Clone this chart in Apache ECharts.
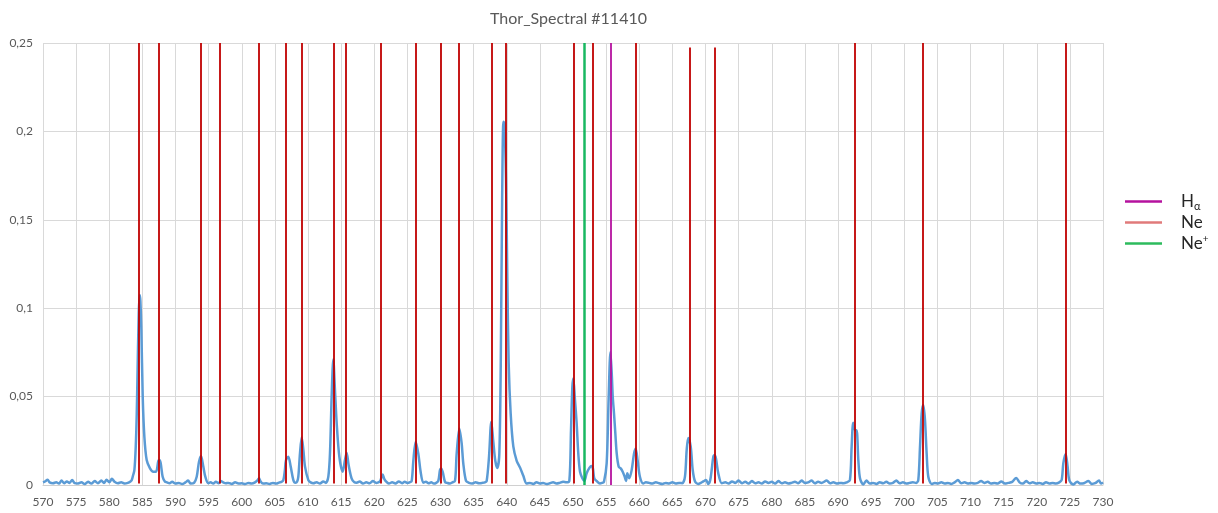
<!DOCTYPE html>
<html>
<head>
<meta charset="utf-8">
<title>Thor_Spectral #11410</title>
<script src="https://cdn.jsdelivr.net/npm/echarts@6/dist/echarts.min.js"></script>
<style>
  html, body { margin: 0; padding: 0; background: #ffffff; }
  #chart { width: 1218px; height: 513px; }
</style>
</head>
<body>
<div id="chart"></div>
<script>
// Measured spectrum: wavelength (nm) and intensity
const wavelengths = [
  570.0, 570.3, 570.7, 571.0, 571.5, 572.0, 572.4, 572.8, 573.2, 573.6, 574.0, 574.4, 574.8, 575.3, 575.8,
  576.3, 576.8, 577.3, 577.8, 578.3, 578.8, 579.2, 579.6, 580.0, 580.4, 580.8, 581.3, 581.8, 582.3, 582.8,
  583.2, 583.4, 583.6, 583.8, 584.0, 584.15, 584.25, 584.45, 584.6, 584.7, 584.85, 585.05, 585.3, 585.65,
  586.15, 586.65, 587.06, 587.4, 587.56, 587.76, 588.06, 588.4, 588.7, 589.1, 589.5, 590.0, 590.5, 591.0,
  591.5, 591.9, 592.3, 592.8, 593.2, 593.55, 593.85, 594.2, 594.5, 594.95, 595.3, 595.7, 596.1, 596.5,
  596.85, 597.2, 597.6, 598.0, 598.5, 599.0, 599.5, 600.0, 600.5, 601.0, 601.5, 602.0, 602.4, 602.6,
  602.85, 603.2, 603.7, 604.2, 604.7, 605.2, 605.7, 606.0, 606.28, 606.5, 606.68, 607.03, 607.39, 607.79,
  608.1, 608.35, 608.54, 608.79, 609.05, 609.3, 609.55, 610.05, 610.4, 610.8, 611.3, 611.8, 612.3, 612.7,
  613.07, 613.32, 613.57, 613.82, 614.07, 614.33, 614.73, 615.23, 615.58, 615.83, 616.13, 616.58, 617.0,
  617.34, 617.8, 618.3, 618.8, 619.3, 619.8, 620.3, 620.87, 621.1, 621.27, 621.5, 621.77, 622.2, 622.7,
  623.2, 623.7, 624.2, 624.6, 625.0, 625.35, 625.65, 625.9, 626.25, 626.65, 627.0, 627.4, 627.8, 628.2,
  628.6, 629.0, 629.35, 629.67, 629.92, 630.08, 630.33, 630.68, 631.0, 631.4, 631.8, 632.19, 632.44,
  632.84, 633.19, 633.44, 633.85, 634.3, 634.8, 635.3, 635.8, 636.3, 636.7, 636.97, 637.32, 637.67,
  637.97, 638.27, 638.58, 638.88, 639.1, 639.3, 639.5, 639.65, 639.89, 640.09, 640.29, 640.59, 640.99,
  641.5, 642.0, 642.5, 643.0, 643.5, 644.0, 644.5, 645.0, 645.5, 646.0, 646.5, 647.0, 647.5, 648.0,
  648.5, 649.0, 649.45, 649.7, 649.9, 650.05, 650.3, 650.55, 650.8, 651.06, 651.41, 651.71, 652.06,
  652.5, 652.8, 653.0, 653.21, 653.56, 654.06, 654.4, 654.67, 655.08, 655.38, 655.65, 655.85, 656.0,
  656.19, 656.39, 656.6, 656.9, 657.2, 657.5, 657.8, 658.0, 658.2, 658.5, 658.86, 659.21, 659.46,
  659.76, 660.1, 660.6, 661.0, 661.5, 662.0, 662.5, 663.0, 663.5, 664.0, 664.5, 665.0, 665.5, 666.0,
  666.5, 666.9, 667.16, 667.4, 667.77, 668.07, 668.42, 668.9, 669.3, 669.67, 670.08, 670.42, 670.7,
  670.93, 671.18, 671.38, 671.58, 671.93, 672.45, 673.0, 673.5, 674.0, 674.5, 675.0, 675.5, 676.0,
  676.5, 677.0, 677.5, 678.0, 678.5, 679.0, 679.5, 680.0, 680.5, 681.0, 681.5, 682.0, 682.5, 683.0,
  683.5, 684.0, 684.5, 685.0, 685.5, 686.03, 686.5, 687.0, 687.5, 688.3, 688.8, 689.3, 689.8, 690.3,
  690.8, 691.3, 691.8, 692.06, 692.3, 692.57, 692.8, 693.07, 693.32, 693.82, 694.3, 694.8, 695.3,
  695.8, 696.3, 696.8, 697.3, 697.8, 698.3, 698.8, 699.3, 699.8, 700.3, 700.8, 701.3, 701.8, 702.12,
  702.38, 702.63, 702.88, 703.13, 703.38, 703.63, 704.14, 704.6, 705.1, 705.6, 706.1, 706.6, 707.1,
  707.6, 708.1, 708.6, 709.1, 709.6, 710.1, 710.6, 711.1, 711.6, 712.1, 712.6, 713.1, 713.6, 714.1,
  714.65, 715.2, 715.7, 716.3, 716.9, 717.4, 717.9, 718.4, 718.9, 719.4, 719.9, 720.4, 720.9, 721.4,
  721.9, 722.4, 722.9, 723.4, 723.76, 724.01, 724.36, 724.66, 724.91, 725.5, 726.1, 726.6, 727.1,
  727.8, 728.3, 728.8, 729.4, 729.7, 730.0
];
const intensities = [
  0.0015, 0.002, 0.003, 0.0015, 0.001, 0.0015, 0.0008, 0.0025, 0.001, 0.002, 0.0012, 0.0028, 0.001, 0.0008, 0.0015,
  0.0005, 0.0018, 0.0008, 0.0022, 0.001, 0.0025, 0.0012, 0.003, 0.0015, 0.0035, 0.0018, 0.001, 0.0015, 0.0008, 0.0012,
  0.002, 0.0028, 0.0055, 0.0085, 0.0217, 0.04, 0.0594, 0.097, 0.1075, 0.104, 0.0877, 0.05, 0.0273, 0.0141,
  0.0094, 0.0075, 0.0075, 0.0135, 0.0141, 0.0125, 0.0047, 0.002, 0.0015, 0.001, 0.0018, 0.0008, 0.0012, 0.0005,
  0.0015, 0.0025, 0.0008, 0.0012, 0.0047, 0.0132, 0.0164, 0.0104, 0.0047, 0.001, 0.0015, 0.0008, 0.0018, 0.001,
  0.0022, 0.0015, 0.001, 0.0012, 0.0006, 0.0015, 0.0008, 0.001, 0.0005, 0.0012, 0.0008, 0.0015, 0.0028, 0.0038,
  0.002, 0.0008, 0.001, 0.0006, 0.0012, 0.0008, 0.0015, 0.0018, 0.0028, 0.008, 0.0141, 0.016, 0.0104, 0.0028,
  0.0013, 0.0018, 0.0047, 0.0179, 0.027, 0.0198, 0.0104, 0.0028, 0.0015, 0.001, 0.0015, 0.0008, 0.002, 0.0012,
  0.0047, 0.018, 0.05, 0.0711, 0.0537, 0.035, 0.016, 0.0075, 0.0141, 0.0183, 0.0113, 0.0038, 0.0015,
  0.0013, 0.002, 0.0008, 0.0015, 0.001, 0.0022, 0.0012, 0.002, 0.0045, 0.006, 0.0035, 0.002, 0.0008, 0.0015,
  0.0008, 0.002, 0.001, 0.0018, 0.0012, 0.0015, 0.0023, 0.0137, 0.0245, 0.0177, 0.0075, 0.0013, 0.0018, 0.001,
  0.0015, 0.0008, 0.0012, 0.0023, 0.0085, 0.0094, 0.0075, 0.0017, 0.0012, 0.0008, 0.0015, 0.0023, 0.0177,
  0.032, 0.0237, 0.0122, 0.0023, 0.0012, 0.0008, 0.0015, 0.001, 0.0012, 0.0015, 0.0023, 0.0158, 0.0358,
  0.0245, 0.0137, 0.0096, 0.0177, 0.07, 0.16, 0.2055, 0.2045, 0.1725, 0.116, 0.069, 0.0405, 0.0218,
  0.0137, 0.0099, 0.0052, 0.0009, 0.0012, 0.0006, 0.0015, 0.0008, 0.0012, 0.0005, 0.001, 0.0015, 0.0008, 0.0012,
  0.0018, 0.0015, 0.0023, 0.031, 0.0554, 0.0603, 0.048, 0.035, 0.0177, 0.0075, 0.0038, 0.0023, 0.0066,
  0.0098, 0.0107, 0.0094, 0.0038, 0.0023, 0.0009, 0.0012, 0.0017, 0.0122, 0.049, 0.0752, 0.063, 0.0499,
  0.0405, 0.0292, 0.0177, 0.0103, 0.0094, 0.0075, 0.0047, 0.0023, 0.0066, 0.0038, 0.0085, 0.0177, 0.0205,
  0.0137, 0.0047, 0.0009, 0.0015, 0.0012, 0.0008, 0.0015, 0.001, 0.0006, 0.0012, 0.0008, 0.0015, 0.0008, 0.0012,
  0.001, 0.0047, 0.0198, 0.0266, 0.0217, 0.0085, 0.002, 0.0006, 0.0012, 0.002, 0.0028, 0.0006, 0.0025,
  0.0085, 0.016, 0.017, 0.015, 0.0066, 0.001, 0.0015, 0.0008, 0.002, 0.0012, 0.0025, 0.001, 0.0018,
  0.0008, 0.0022, 0.001, 0.0015, 0.0008, 0.002, 0.0012, 0.0018, 0.0008, 0.0022, 0.001, 0.0015, 0.0008, 0.0012,
  0.0018, 0.001, 0.0025, 0.0012, 0.0015, 0.0025, 0.001, 0.0018, 0.0012, 0.0025, 0.001, 0.0015, 0.0008, 0.0012,
  0.001, 0.0015, 0.0028, 0.0217, 0.0352, 0.031, 0.031, 0.0141, 0.0038, 0.0003, 0.0025, 0.0008, 0.0012,
  0.0006, 0.0015, 0.001, 0.0018, 0.0008, 0.0012, 0.0025, 0.001, 0.0015, 0.0008, 0.0012, 0.0015, 0.0012, 0.0028,
  0.0217, 0.0405, 0.0452, 0.0367, 0.0179, 0.0047, 0.0006, 0.0012, 0.0008, 0.0015, 0.0008, 0.0012, 0.0006,
  0.0015, 0.0028, 0.001, 0.0015, 0.0008, 0.0012, 0.0008, 0.0012, 0.0022, 0.0012, 0.0018, 0.0008, 0.0012, 0.0008,
  0.002, 0.0008, 0.0012, 0.0018, 0.004, 0.0015, 0.0008, 0.0022, 0.001, 0.0015, 0.0008, 0.0012, 0.0006, 0.0015,
  0.0008, 0.0012, 0.0008, 0.0015, 0.0028, 0.0122, 0.0175, 0.0104, 0.0028, 0.0003, 0.0018, 0.0008, 0.001,
  0.0022, 0.0006, 0.001, 0.0025, 0.0008, 0.0015
];

// Reference emission lines (nm)
const halphaLines = [655.65];
const neLines = [584.49, 587.51, 593.85, 596.72, 602.60, 606.68, 609.05, 613.82, 615.74, 621.02, 626.26,
  630.08, 632.79, 637.77, 639.89, 650.05, 652.91, 659.46, 667.56, 671.33, 692.57, 702.78, 724.31];
const neLineTops = [0.25, 0.25, 0.25, 0.25, 0.25, 0.25, 0.25, 0.25, 0.25, 0.25, 0.25,
  0.25, 0.25, 0.25, 0.25, 0.25, 0.25, 0.25, 0.2475, 0.2475, 0.25, 0.25, 0.25];
const neIonLines = [651.71];

const FONT = 'Lato, "Noto Sans", sans-serif';
const AXIS_TEXT = '#595959';
const GRID = '#d9d9d9';

function verticals(xs, tops, bottom) {
  return xs.map((x, i) => [
    { coord: [x, bottom] },
    { coord: [x, tops ? tops[i] : 0.25] }
  ]);
}

function lineSeries(name, color, legendColor, width, xs, tops, bottom) {
  return {
    name: name,
    type: 'line',
    data: [],
    z: 5,
    itemStyle: { color: legendColor },
    lineStyle: { color: legendColor },
    markLine: {
      silent: true,
      symbol: 'none',
      label: { show: false },
      emphasis: { disabled: true },
      lineStyle: { color: color, width: width, type: 'solid', opacity: 0.9 },
      data: verticals(xs, tops, bottom)
    }
  };
}

const chart = echarts.init(document.getElementById('chart'), null, { renderer: 'canvas' });

chart.setOption({
  animation: false,
  backgroundColor: '#ffffff',
  title: {
    text: 'Thor_Spectral #11410',
    left: 485,
    top: 6,
    textStyle: { fontFamily: FONT, fontSize: 16, fontWeight: 'normal', color: AXIS_TEXT }
  },
  grid: { left: 43, right: 115, top: 43, bottom: 28, containLabel: false },
  legend: {
    orient: 'vertical',
    left: 1120,
    top: 188,
    icon: 'rect',
    itemWidth: 37,
    itemHeight: 2.5,
    itemGap: 2.5,
    selectedMode: false,
    data: ['Hα', 'Ne', 'Ne⁺'],
    formatter: function (name) {
      if (name === 'Hα') return '{b|H}{s|α}';
      if (name === 'Ne⁺') return '{b|Ne}{p|+}';
      return '{b|' + name + '}';
    },
    textStyle: {
      padding: [0, 0, 0, 14],
      fontFamily: FONT,
      rich: {
        b: { fontFamily: FONT, fontSize: 17, lineHeight: 20, color: '#262626' },
        s: { fontFamily: FONT, fontSize: 11, lineHeight: 8, verticalAlign: 'bottom', color: '#262626' },
        p: { fontFamily: FONT, fontSize: 10, lineHeight: 10, verticalAlign: 'top', color: '#262626' }
      }
    }
  },
  xAxis: {
    type: 'value',
    min: 570,
    max: 730,
    interval: 5,
    axisLine: { show: true, lineStyle: { color: '#d0d0d0', width: 1 } },
    axisTick: { show: false },
    axisLabel: { color: AXIS_TEXT, fontFamily: FONT, fontSize: 12, margin: 11 },
    splitLine: { show: true, lineStyle: { color: GRID, width: 1 } }
  },
  yAxis: {
    type: 'value',
    min: 0,
    max: 0.25,
    interval: 0.05,
    axisLine: { show: false },
    axisTick: { show: false },
    axisLabel: {
      color: AXIS_TEXT, fontFamily: FONT, fontSize: 12, margin: 10,
      formatter: function (v) { return String(+v.toFixed(2)).replace('.', ','); }
    },
    splitLine: { show: true, lineStyle: { color: GRID, width: 1 } }
  },
  series: [
    {
      name: 'spectrum',
      type: 'line',
      z: 3,
      showSymbol: false,
      symbol: 'none',
      smooth: 0.3,
      lineStyle: { color: '#5b9bd5', width: 2.5 },
      itemStyle: { color: '#5b9bd5' },
      data: wavelengths.map((w, i) => [w, intensities[i]])
    },
    lineSeries('Hα', '#b5129e', '#b5129e', 2, halphaLines, null, 0),
    lineSeries('Ne', '#c00000', '#e07a7a', 2, neLines, neLineTops, 0.0008),
    lineSeries('Ne⁺', '#00b050', '#2dbb5d', 2.5, neIonLines, null, 0)
  ]
});
</script>
</body>
</html>
